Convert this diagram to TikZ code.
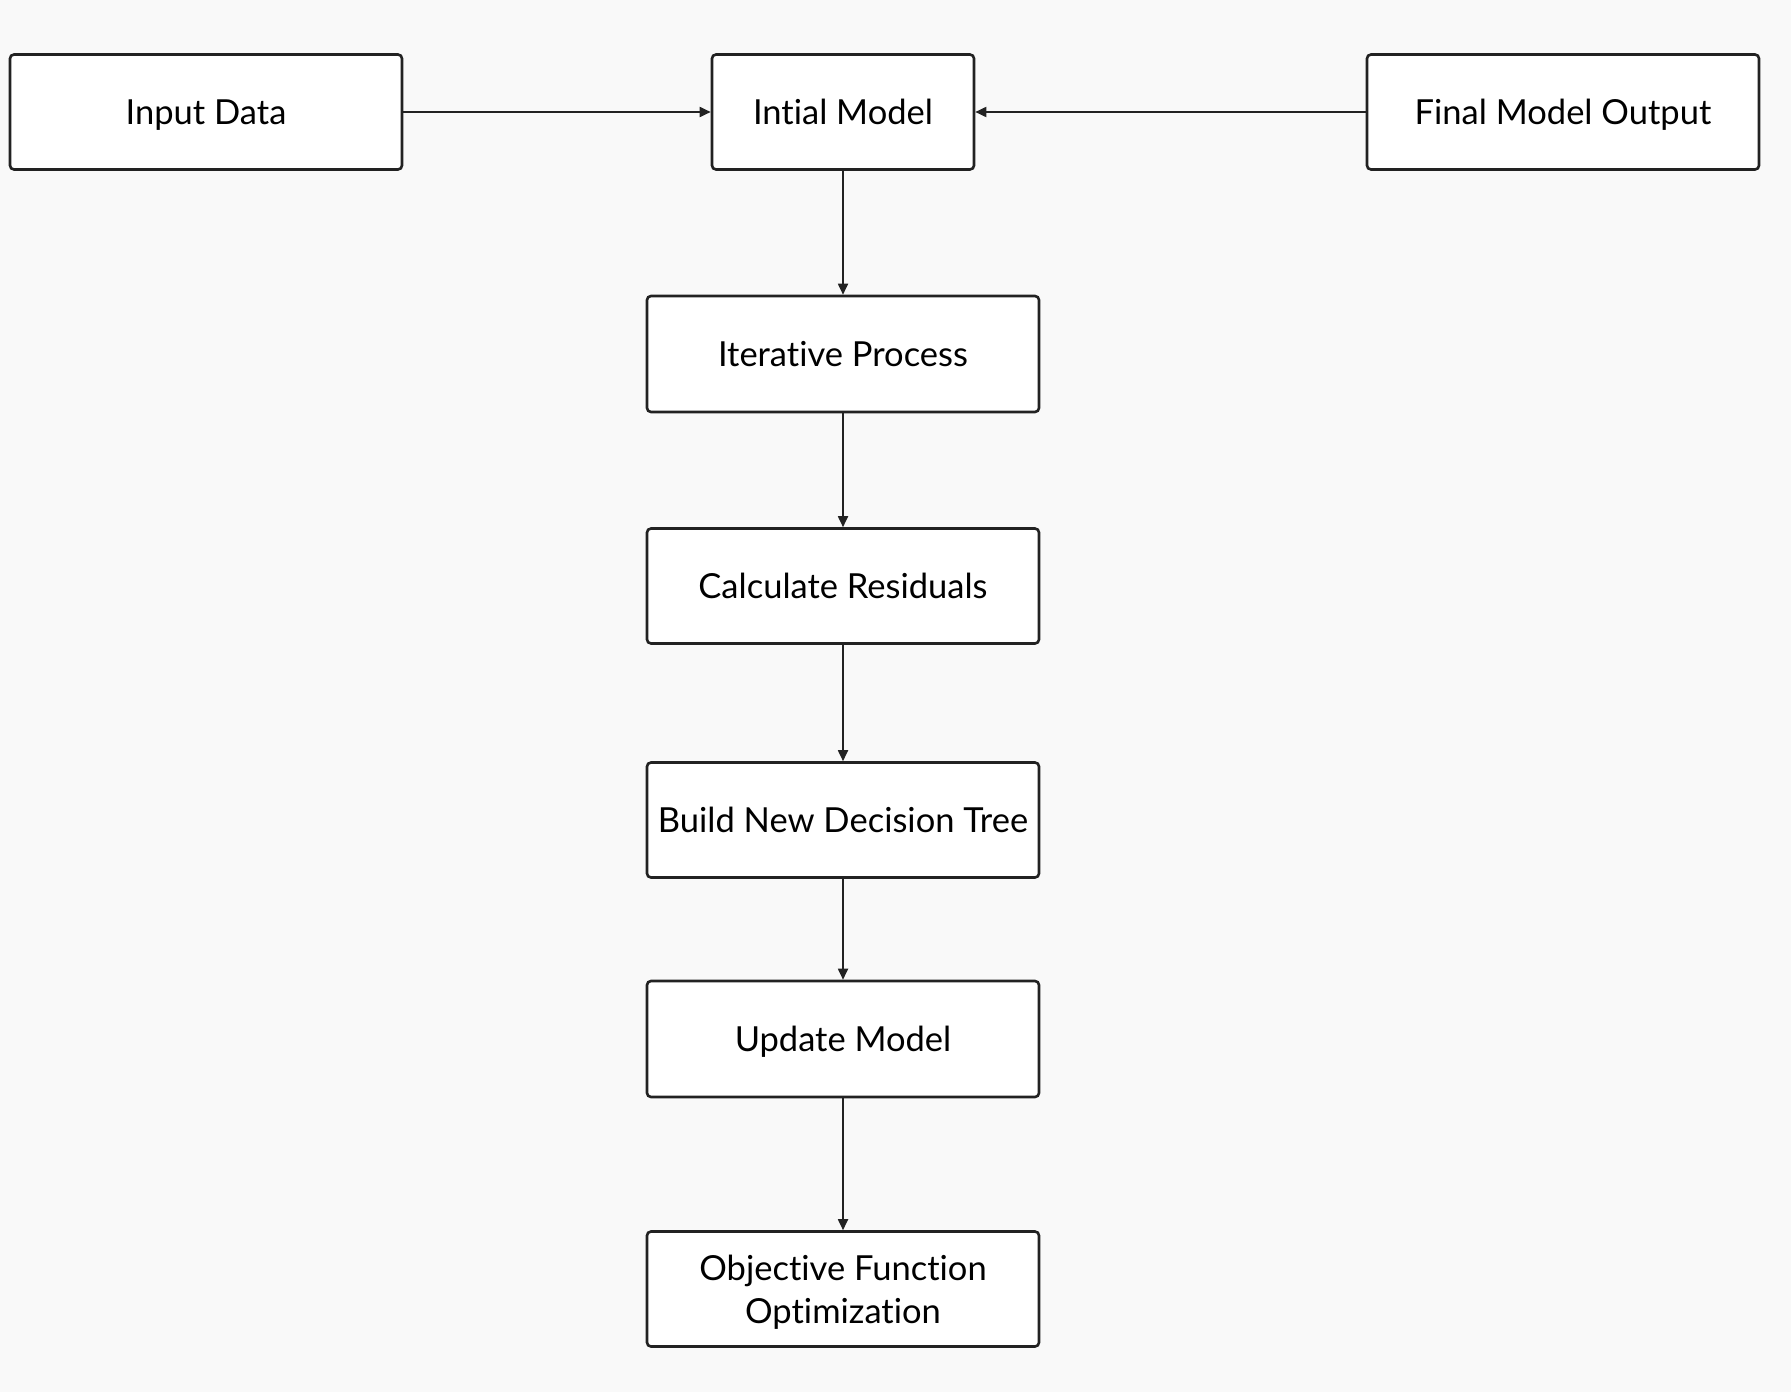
\documentclass[tikz,border=0pt]{standalone}
\usepackage{fontspec}
\setmainfont{Lato}[Ligatures={NoCommon}]
\usetikzlibrary{arrows.meta}
\definecolor{bg}{HTML}{F9F9F9}
\definecolor{ink}{HTML}{222222}
\tikzset{
  box/.style={draw=ink, fill=white, line width=2.6pt, rounded corners=4pt, inner sep=0pt,
    align=center, font=\fontsize{34.5}{43}\selectfont, text=black},
  one/.style={text height=28pt, text depth=3pt},
  conn/.style={draw=ink, line width=1.8pt, -{Triangle[length=11pt,width=10pt]}},
}
\begin{document}
\begin{tikzpicture}[x=1pt,y=-1pt]
\fill[bg] (0,0) rectangle (1791,1392);
\useasboundingbox (0,0) rectangle (1791,1392);
\node[box, one, minimum width=392pt, minimum height=115pt] (input) at (206,112) {Input Data};
\node[box, one, minimum width=262pt, minimum height=115pt] (init) at (843,112) {Intial Model};
\node[box, one, minimum width=392pt, minimum height=115pt] (final) at (1563,112) {Final Model Output};
\node[box, one, minimum width=392pt, minimum height=116pt] (iter) at (843,354) {Iterative Process};
\node[box, one, minimum width=392pt, minimum height=115pt] (calc) at (843,586) {Calculate Residuals};
\node[box, one, minimum width=392pt, minimum height=115pt] (build) at (843,820) {Build New Decision Tree};
\node[box, one, minimum width=392pt, minimum height=116pt] (update) at (843,1039) {Update Model};
\node[box, text depth=0pt, minimum width=392pt, minimum height=115pt] (obj) at (843,1289) {Objective Function\\Optimization};
\draw[conn] (input) -- (init);
\draw[conn] (final) -- (init);
\draw[conn] (init) -- (iter);
\draw[conn] (iter) -- (calc);
\draw[conn] (calc) -- (build);
\draw[conn] (build) -- (update);
\draw[conn] (update) -- (obj);
\end{tikzpicture}
\end{document}
